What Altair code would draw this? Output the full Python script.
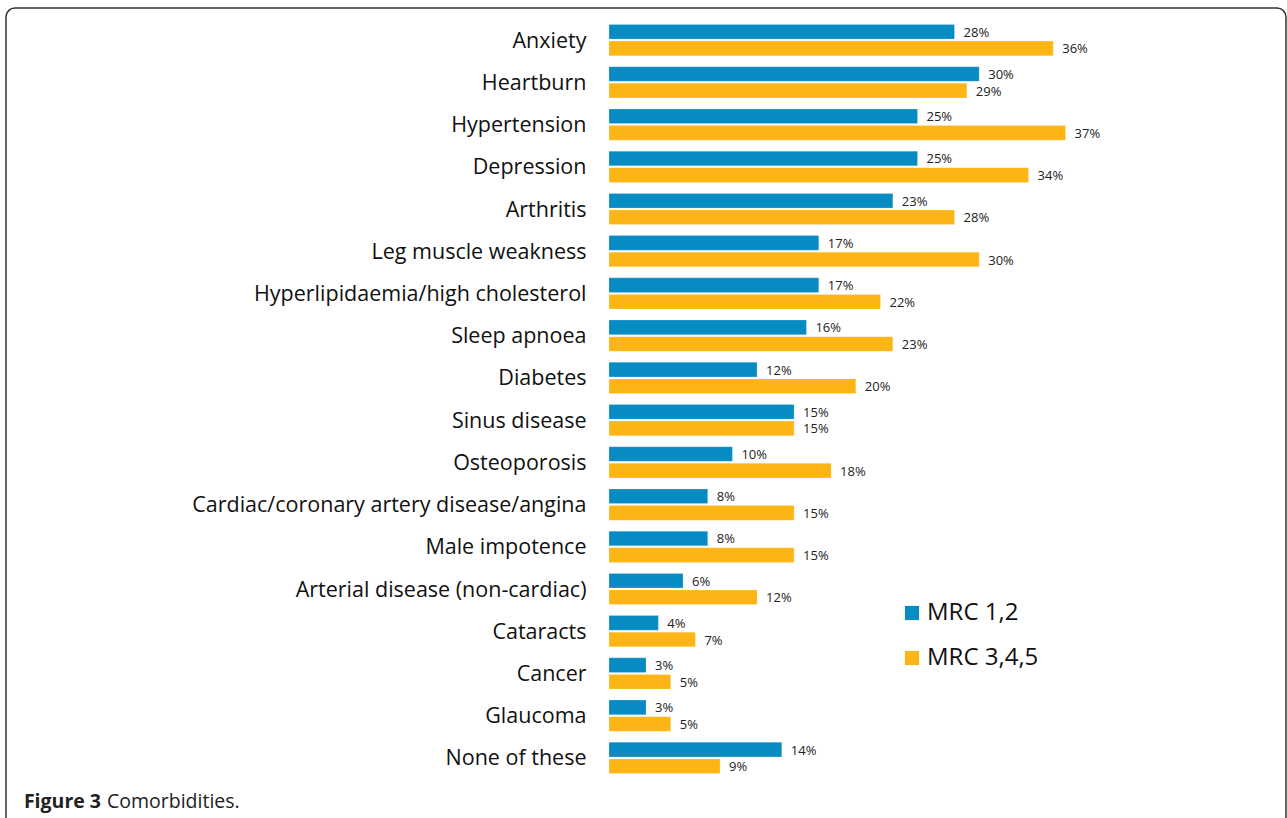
import altair as alt
import pandas as pd

# Comorbidity categories, top to bottom
conditions = [
    "Anxiety", "Heartburn", "Hypertension", "Depression", "Arthritis",
    "Leg muscle weakness", "Hyperlipidaemia/high cholesterol", "Sleep apnoea",
    "Diabetes", "Sinus disease", "Osteoporosis",
    "Cardiac/coronary artery disease/angina", "Male impotence",
    "Arterial disease (non-cardiac)", "Cataracts", "Cancer", "Glaucoma",
    "None of these",
]
# Percentage of patients in each MRC dyspnoea group
mrc_12 = [28, 30, 25, 25, 23, 17, 17, 16, 12, 15, 10, 8, 8, 6, 4, 3, 3, 14]
mrc_345 = [36, 29, 37, 34, 28, 30, 22, 23, 20, 15, 18, 15, 15, 12, 7, 5, 5, 9]
groups = ["MRC 1,2", "MRC 3,4,5"]
group_colors = ["#078bc3", "#fdb515"]

rows = []
for cond, a, b in zip(conditions, mrc_12, mrc_345):
    rows.append({"condition": cond, "group": groups[0], "pct": a})
    rows.append({"condition": cond, "group": groups[1], "pct": b})
df = pd.DataFrame(rows)
df["label"] = df["pct"].astype(str) + "%"

FONT = "Open Sans"
PLOT_W = 617
PLOT_H = 760
PAD_L, PAD_T = 609, 19

y_enc = alt.Y("condition:N", sort=conditions, title=None,
              scale=alt.Scale(paddingInner=0.26, paddingOuter=0.13),
              axis=alt.Axis(domain=False, ticks=False, labelFont=FONT,
                            labelFontSize=21.5, labelFontWeight=500,
                            labelColor="#111111", labelOffset=1.5,
                            labelPadding=23, labelLimit=600))
x_enc = alt.X("pct:Q", scale=alt.Scale(domain=[0, 50]), axis=None)
yoff = alt.YOffset("group:N", sort=groups,
                   scale=alt.Scale(paddingInner=0.12))

base = alt.Chart(df).encode(y=y_enc, yOffset=yoff)

bars = base.mark_bar(stroke="white", strokeOpacity=0.35, strokeWidth=0.6).encode(
    x=x_enc,
    color=alt.Color("group:N", sort=groups,
                    scale=alt.Scale(domain=groups, range=group_colors),
                    legend=alt.Legend(title=None, orient="none",
                                      legendX=291, legendY=582,
                                      symbolType="square", symbolSize=200,
                                      symbolStrokeWidth=0,
                                      labelFont=FONT, labelFontSize=24,
                                      labelFontWeight=500,
                                      labelColor="#111111", rowPadding=21,
                                      labelOffset=3)),
)

labels = base.mark_text(align="left", baseline="middle", dx=9, dy=1,
                        font=FONT, fontSize=13, color="#222222").encode(
    x=x_enc, text="label:N"
)

# Figure caption below the bars
cap_bold = alt.Chart(pd.DataFrame({"t": ["Figure 3"]})).mark_text(
    align="right", baseline="alphabetic", font=FONT, fontSize=19.5,
    fontWeight="bold", color="#222222"
).encode(x=alt.value(101 - PAD_L), y=alt.value(808 - PAD_T), text="t:N")
cap_rest = alt.Chart(pd.DataFrame({"t": ["Comorbidities."]})).mark_text(
    align="left", baseline="alphabetic", font=FONT, fontSize=19.5,
    color="#222222"
).encode(x=alt.value(107 - PAD_L), y=alt.value(808 - PAD_T), text="t:N")

# Rounded outline around the whole figure
frame = alt.Chart(pd.DataFrame({"k": [0]})).mark_rect(
    fill=None, stroke="#333333", strokeWidth=1.5, cornerRadius=9
).encode(x=alt.value(6 - PAD_L), x2=alt.value(1286 - PAD_L),
         y=alt.value(8 - PAD_T), y2=alt.value(840 - PAD_T))

chart = alt.layer(frame, bars, labels, cap_bold, cap_rest).properties(
    width=PLOT_W, height=PLOT_H,
    autosize=alt.AutoSizeParams(type="none"),
    padding={"left": PAD_L, "top": PAD_T, "right": 1287 - PAD_L - PLOT_W,
             "bottom": 818 - PAD_T - PLOT_H},
    background="white",
).configure_view(stroke=None)

chart.save("out.html", embed_options={"renderer": "svg", "actions": False})
